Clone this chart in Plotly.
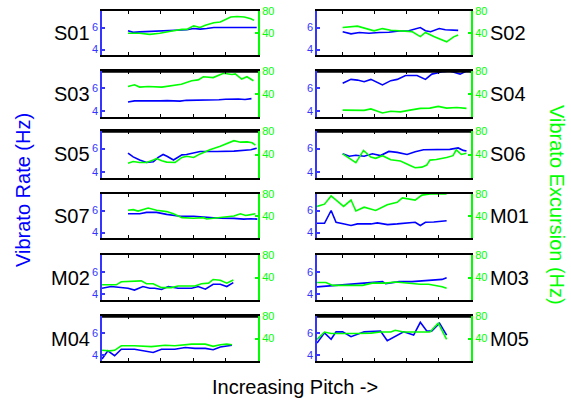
import plotly.graph_objects as go

# ---------------- data ----------------
panel_names = ["S01", "S02", "S03", "S04", "S05", "S06", "S07", "M01", "M02", "M03", "M04", "M05"]

s01_rate_x = [5, 5.8, 6.8, 8.9, 10.95, 13, 14.05, 15.1, 16.1, 17.1, 18.2, 24.8]
s01_rate = [5.71, 5.56, 5.6, 5.65, 5.68, 5.74, 5.79, 5.91, 5.85, 5.91, 6.0, 6.0]
s01_exc_x = [5, 6.8, 8.35, 9.9, 12, 13.3, 14.05, 15.1, 16.1, 16.9, 18.2, 19.2, 20.8, 21.8, 22.9, 23.9, 24.4]
s01_exc = [39.5, 39.5, 37.5, 39.5, 44, 46.5, 46.5, 53, 50, 54, 58.5, 60, 69, 70, 69, 66, 63]

s02_rate_x = [5, 6.3, 7.6, 9.1, 10.7, 12.2, 13.8, 15.3, 17.1, 17.9, 18.7, 20.05, 21, 22, 23]
s02_rate = [5.62, 5.42, 5.54, 5.48, 5.54, 5.57, 5.68, 5.71, 6.0, 5.71, 5.62, 5.91, 5.8, 5.77, 5.74]
s02_exc_x = [5, 7.3, 9.9, 11.2, 12.5, 14, 15.8, 17.1, 17.9, 19.2, 21.2, 22.3, 23]
s02_exc = [50, 52.5, 44, 48, 45, 44, 42.5, 33.5, 41, 33.5, 24, 33, 36.5]

s03_rate_x = [5, 6, 7, 8, 9, 10, 11, 12, 13, 14, 15, 16, 17, 18, 19, 20, 21, 22, 23, 24]
s03_rate = [4.8, 4.9, 4.9, 4.9, 4.85, 4.9, 4.92, 4.92, 4.88, 4.95, 4.95, 4.95, 4.95, 4.98, 5.0, 5.05, 5.07, 5.07, 5.02, 5.1]
s03_exc_x = [5, 6, 6.8, 8.1, 10.2, 11.7, 13.2, 14.8, 15.8, 16.6, 18.1, 19.7, 21, 21.5, 22.5, 23.3, 24.3]
s03_exc = [53, 56, 52, 53, 52, 55, 57, 63, 64.5, 70, 68.5, 76, 74, 75, 66, 70, 63]

s04_rate_x = [5, 6.3, 7.3, 8.35, 9.4, 11.2, 12.5, 13.5, 14.8, 16.6, 17.9, 18.9, 20.7, 21.7, 23.3, 24.3]
s04_rate = [6.43, 6.77, 6.71, 6.57, 6.77, 6.29, 6.66, 6.77, 7.11, 7.11, 6.77, 7.23, 7.45, 7.5, 7.23, 7.5]
s04_exc_x = [5, 7.3, 8.35, 9.4, 11.2, 12.5, 14, 15.5, 17.1, 18.6, 19.9, 21.2, 22.8, 24.3]
s04_exc = [12, 12.5, 11.5, 14, 7, 10, 9, 12, 15, 15.5, 18.5, 15.5, 16.5, 15]

s05_rate_x = [5, 5.8, 6.8, 7.85, 8.9, 9.65, 10.4, 11, 12, 12.75, 13.3, 14, 15.1, 16.1, 18.7, 21.3, 23.9, 24.8]
s05_rate = [5.62, 5.3, 5.03, 4.82, 4.88, 5.26, 5.5, 5.35, 5.03, 5.32, 5.47, 5.5, 5.65, 5.76, 5.76, 5.79, 5.91, 6.03]
s05_exc_x = [5, 5.8, 6.8, 7.85, 8.9, 9.4, 10.2, 10.95, 12.25, 13.3, 14.05, 15.1, 16.1, 17.6, 19.2, 20.2, 21.3, 22.3, 23.35, 24.1, 24.6]
s05_exc = [25, 28, 26.5, 26.5, 30.5, 33, 29.5, 27, 26.5, 35, 37, 35, 41, 48, 54, 59, 63.5, 61, 61.5, 60, 56]

s06_rate_x = [5, 6.03, 7.06, 8.35, 9.64, 10.9, 12.2, 13.5, 15.04, 16.3, 17.6, 20.2, 21.7, 23, 23.8, 24.3]
s06_rate = [5.56, 5.35, 5.44, 5.35, 5.56, 5.41, 5.76, 5.68, 5.5, 5.74, 5.91, 5.91, 5.94, 6.06, 5.85, 5.79]
s06_exc_x = [5, 6.03, 7.06, 8.25, 9.38, 10.15, 11.2, 12.5, 14, 15.6, 16.3, 17.35, 18.1, 18.6, 19.6, 21.2, 22.2, 22.7, 23.5, 24.3]
s06_exc = [41, 33.5, 26, 47, 35.5, 33.5, 38, 31, 29, 21, 17.5, 18.5, 22, 30.5, 31.5, 35, 38, 48, 40, 42]

s07_rate_x = [5, 6.8, 7.85, 9.4, 10.95, 13, 15.1, 17.1, 19.2, 21.3, 22.8, 23.9, 24.9]
s07_rate = [5.71, 5.71, 5.83, 5.83, 5.65, 5.48, 5.48, 5.36, 5.3, 5.28, 5.22, 5.25, 5.22]
s07_exc_x = [5, 5.8, 6.55, 8.1, 9.4, 10.95, 12, 13.3, 15.1, 16.6, 17.1, 18.7, 20.2, 21.3, 22.3, 23.1, 23.9, 24.6]
s07_exc = [50.5, 51.5, 49, 54.5, 50.5, 48, 44, 37, 36, 37, 34.5, 37, 39.5, 40, 44, 41, 42.5, 44]

m01_rate_x = [1, 2.17, 3.2, 3.97, 5.26, 6.3, 7.3, 9.4, 10.4, 12, 13.5, 15.04, 16.3, 17.1, 17.9, 19.2, 20.2, 21.2]
m01_rate = [4.84, 4.84, 6.0, 4.93, 4.78, 4.64, 4.78, 4.78, 4.87, 4.72, 4.78, 4.9, 4.93, 4.64, 4.93, 4.96, 5.01, 5.07]
m01_exc_x = [1, 2.17, 3.2, 4.2, 5.15, 6.3, 7.06, 8.35, 10.15, 11.95, 13.5, 14.3, 15.04, 16.3, 17.35, 18.6, 21.2]
m01_exc = [57.5, 61.5, 76.5, 67.5, 57.5, 69, 49, 56, 50, 60.5, 65, 73, 72, 69, 78, 80, 80]

m02_rate_x = [1, 2.4, 5, 6, 7.3, 8.35, 9.1, 10.15, 11.2, 12.7, 14.8, 15.8, 16.9, 18.1, 19.2, 20.2, 21.2]
m02_rate = [4.55, 4.7, 4.55, 4.38, 4.7, 4.55, 4.55, 4.43, 4.7, 4.55, 4.55, 4.7, 4.46, 4.9, 4.9, 4.7, 5.04]
m02_exc_x = [1, 3.2, 3.97, 7.06, 7.84, 8.87, 10.15, 11.7, 12.7, 15.3, 16.3, 17.4, 18.1, 19.2, 20.2, 21.2]
m02_exc = [27, 27, 32.5, 34, 29, 29, 22, 22, 25, 25, 29, 30, 36.5, 35, 30, 35.5]

m03_rate_x = [1, 2.9, 5, 7.06, 9.1, 11.2, 11.7, 12.7, 13.8, 15.8, 17.9, 19.4, 20.5, 21.2]
m03_rate = [4.67, 4.75, 4.9, 4.96, 5.07, 5.13, 4.96, 5.04, 5.13, 5.13, 5.19, 5.25, 5.33, 5.48]
m03_exc_x = [1, 2.4, 3.45, 5, 7.06, 8.1, 9.6, 11.7, 13.25, 14.8, 15.8, 17.1, 18.4, 19.4, 20.5, 21.2]
m03_exc = [31, 31, 26, 26, 25, 26, 30, 30, 32, 30, 30, 28, 28, 26, 23.5, 21]

m04_rate_x = [1, 1.9, 2.94, 3.97, 6, 7.6, 8.87, 10.15, 12.2, 13.8, 15.3, 16.9, 18.1, 19.2, 20.2, 21]
m04_rate = [3.68, 4.4, 3.97, 4.55, 4.55, 4.4, 4.26, 4.55, 4.55, 4.7, 4.62, 4.62, 4.5, 4.75, 4.84, 4.9]
m04_exc_x = [1, 2.16, 2.94, 3.97, 6, 8.6, 10.7, 12.2, 14.8, 16.9, 18.1, 19.2, 20.2, 21]
m04_exc = [19, 18, 19, 27, 27, 25.5, 28, 27, 30, 30, 26, 29, 30, 29]

m05_rate_x = [1, 2.17, 3.2, 3.97, 5, 6.3, 8.35, 10.9, 11.95, 13.5, 14.5, 16.06, 17.1, 18.1, 18.9, 20.1, 21.2]
m05_rate = [5.09, 6.0, 5.43, 6.09, 6.09, 5.66, 6.09, 6.17, 5.31, 5.8, 6.09, 5.8, 6.94, 6.17, 6.17, 6.86, 5.8]
m05_exc_x = [1, 2.17, 3.2, 4.74, 7.3, 9.4, 10.9, 12.5, 13.2, 14.5, 16.06, 17.1, 18.6, 19.9, 21.2]
m05_exc = [38.5, 51.5, 49, 49.5, 49, 49.5, 51.5, 51.5, 54.5, 51.5, 52, 51.5, 51.5, 67.5, 38.5]

rate_ticks = [4, 6]
exc_ticks = [40, 80]
pitch_ticks = [5, 10, 15, 20]

series = [
    (s01_rate_x, s01_rate, s01_exc_x, s01_exc),
    (s02_rate_x, s02_rate, s02_exc_x, s02_exc),
    (s03_rate_x, s03_rate, s03_exc_x, s03_exc),
    (s04_rate_x, s04_rate, s04_exc_x, s04_exc),
    (s05_rate_x, s05_rate, s05_exc_x, s05_exc),
    (s06_rate_x, s06_rate, s06_exc_x, s06_exc),
    (s07_rate_x, s07_rate, s07_exc_x, s07_exc),
    (m01_rate_x, m01_rate, m01_exc_x, m01_exc),
    (m02_rate_x, m02_rate, m02_exc_x, m02_exc),
    (m03_rate_x, m03_rate, m03_exc_x, m03_exc),
    (m04_rate_x, m04_rate, m04_exc_x, m04_exc),
    (m05_rate_x, m05_rate, m05_exc_x, m05_exc),
]

# ---------------- layout / styling ----------------
W, H = 571, 402
FONT = "Liberation Sans, Arial, sans-serif"
BLUE = "#0000ff"
BLUE_AX = "#3535ff"
GREEN = "#00ff00"
col_px = [(102, 258), (317, 471)]
row_px = [(11, 55), (71, 117), (131, 178), (194, 238), (255, 300), (316, 361)]
thick_top_rows = {1, 2, 5}

fig = go.Figure()
layout = {}
annotations = []
shapes = []

for i, (name, (rx, ry, ex, ey)) in enumerate(zip(panel_names, series)):
    r, c = divmod(i, 2)
    n = i + 1
    xs = "" if n == 1 else str(n)
    yl = 2 * n - 1
    yr = 2 * n
    yl_s = "" if yl == 1 else str(yl)
    xdom = [col_px[c][0] / W, col_px[c][1] / W]
    ydom = [1 - row_px[r][1] / H, 1 - row_px[r][0] / H]

    fig.add_trace(go.Scatter(x=rx, y=ry, mode="lines", line=dict(color=BLUE, width=1.6),
                             xaxis="x" + xs, yaxis="y" + yl_s, showlegend=False, hoverinfo="skip"))
    fig.add_trace(go.Scatter(x=ex, y=ey, mode="lines", line=dict(color=GREEN, width=1.6),
                             xaxis="x" + xs, yaxis="y" + str(yr), showlegend=False, hoverinfo="skip"))

    layout["xaxis" + xs] = dict(domain=xdom, anchor="y" + yl_s, range=[1, 25], automargin=False,
                                tickvals=pitch_ticks, showticklabels=False,
                                ticks="inside", ticklen=3, tickcolor="black", tickwidth=1,
                                showline=True, linecolor="black", linewidth=2, mirror="ticks",
                                showgrid=False, zeroline=False)
    layout["yaxis" + yl_s] = dict(domain=ydom, anchor="x" + xs, range=[3.5, 7.5], automargin=False,
                                  tickvals=rate_ticks, ticks="inside", ticklen=3,
                                  tickcolor=BLUE_AX, tickwidth=1.5,
                                  tickfont=dict(family=FONT, size=11, color=BLUE_AX),
                                  showline=True, linecolor=BLUE_AX, linewidth=1.5,
                                  showgrid=False, zeroline=False)
    layout["yaxis" + str(yr)] = dict(overlaying="y" + yl_s, side="right", anchor="x" + xs,
                                     range=[0, 80], automargin=False,
                                     tickvals=exc_ticks, ticks="inside", ticklen=3,
                                     tickcolor=GREEN, tickwidth=1.5,
                                     tickfont=dict(family=FONT, size=11, color=GREEN),
                                     showline=True, linecolor=GREEN, linewidth=2,
                                     showgrid=False, zeroline=False)

    if r in thick_top_rows:
        shapes.append(dict(type="line", xref="x" + xs + " domain", yref="y" + yl_s + " domain",
                           x0=0, x1=1, y0=1, y1=1, line=dict(color="black", width=3.5), layer="above"))

    ymid = (ydom[0] + ydom[1]) / 2
    if c == 0:
        annotations.append(dict(text=name, xref="paper", yref="paper", x=92 / W, y=ymid,
                                xanchor="right", yanchor="middle", showarrow=False,
                                font=dict(family=FONT, size=20, color="black")))
    else:
        annotations.append(dict(text=name, xref="paper", yref="paper", x=488 / W, y=ymid,
                                xanchor="left", yanchor="middle", showarrow=False,
                                font=dict(family=FONT, size=20, color="black")))

annotations.append(dict(text="Vibrato Rate (Hz)", xref="paper", yref="paper", x=23 / W, y=1 - 190 / H,
                        xanchor="center", yanchor="middle", textangle=-90, showarrow=False,
                        font=dict(family=FONT, size=20, color=BLUE)))
annotations.append(dict(text="Vibrato Excursion (Hz)", xref="paper", yref="paper", x=557 / W, y=1 - 205 / H,
                        xanchor="center", yanchor="middle", textangle=90, showarrow=False,
                        font=dict(family=FONT, size=20, color=GREEN)))
annotations.append(dict(text="Increasing Pitch ->", xref="paper", yref="paper", x=295 / W, y=1 - 387 / H,
                        xanchor="center", yanchor="middle", showarrow=False,
                        font=dict(family=FONT, size=20, color="black")))

layout.update(dict(width=W, height=H, autosize=False,
                   margin=dict(l=0, r=0, t=0, b=0, pad=0, autoexpand=False),
                   paper_bgcolor="white", plot_bgcolor="white",
                   annotations=annotations, shapes=shapes, showlegend=False,
                   font=dict(family=FONT)))
fig.update_layout(**layout)
fig.write_html("out.html", config={"displayModeBar": False},
               post_script="document.body.style.margin='0';document.body.style.padding='0';")
